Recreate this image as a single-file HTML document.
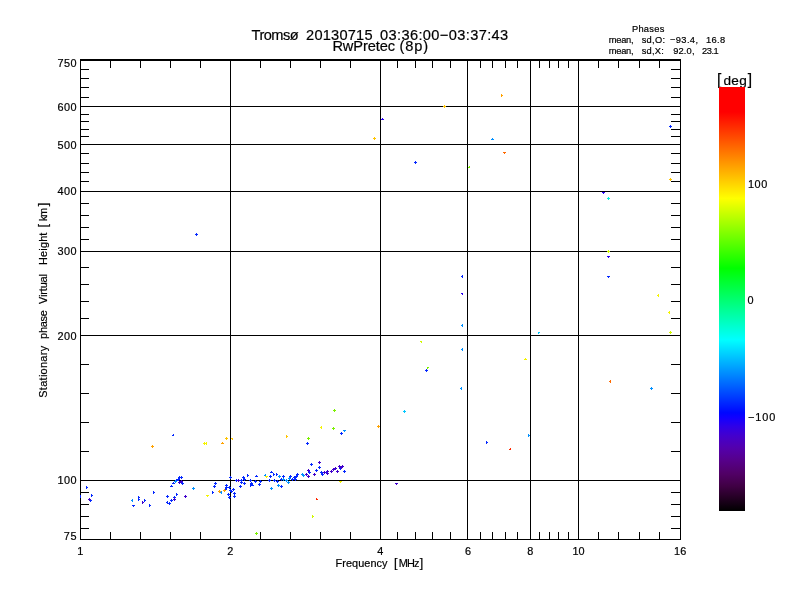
<!DOCTYPE html>
<html><head><meta charset="utf-8"><title>Tromsø 20130715 RwPretec</title>
<style>html,body{margin:0;padding:0;background:#fff}svg{display:block;will-change:transform}g.tx{filter:grayscale(1)}text{font-family:"Liberation Sans",sans-serif;fill:#000;stroke:#000;stroke-width:.2px}.t{font-size:11px}.s{font-size:9.6px}.b{font-size:13.4px}</style></head><body>
<svg width="800" height="600" viewBox="0 0 800 600">
<rect width="800" height="600" fill="#fff"/>
<defs><linearGradient id="cb" x1="0" y1="1" x2="0" y2="0">
<stop offset="0.0000" stop-color="rgb(0,0,0)"/>
<stop offset="0.0314" stop-color="rgb(36,0,36)"/>
<stop offset="0.0588" stop-color="rgb(64,0,68)"/>
<stop offset="0.0863" stop-color="rgb(80,0,100)"/>
<stop offset="0.1176" stop-color="rgb(86,0,136)"/>
<stop offset="0.1490" stop-color="rgb(83,0,173)"/>
<stop offset="0.1765" stop-color="rgb(68,0,204)"/>
<stop offset="0.2000" stop-color="rgb(46,0,232)"/>
<stop offset="0.2196" stop-color="rgb(18,0,255)"/>
<stop offset="0.2314" stop-color="rgb(0,6,255)"/>
<stop offset="0.4039" stop-color="rgb(0,255,255)"/>
<stop offset="0.5725" stop-color="rgb(0,255,0)"/>
<stop offset="0.7373" stop-color="rgb(255,255,0)"/>
<stop offset="0.9412" stop-color="rgb(255,0,0)"/>
<stop offset="1.0000" stop-color="rgb(255,0,0)"/>
</linearGradient></defs>
<g fill="#000" shape-rendering="crispEdges"><rect x="80" y="59" width="1" height="481"/><rect x="680" y="59" width="1" height="481"/><rect x="80" y="59" width="601" height="2"/><rect x="80" y="539" width="601" height="1"/><rect x="80" y="480" width="601" height="1"/><rect x="80" y="335" width="601" height="1"/><rect x="80" y="251" width="601" height="1"/><rect x="80" y="191" width="601" height="1"/><rect x="80" y="144" width="601" height="1"/><rect x="80" y="106" width="601" height="1"/><rect x="230" y="59" width="1" height="481"/><rect x="380" y="59" width="1" height="481"/><rect x="467" y="59" width="1" height="481"/><rect x="530" y="59" width="1" height="481"/><rect x="578" y="59" width="1" height="481"/><rect x="81" y="528" width="8" height="1"/><rect x="671" y="528" width="9" height="1"/><rect x="81" y="516" width="8" height="1"/><rect x="671" y="516" width="9" height="1"/><rect x="81" y="504" width="8" height="1"/><rect x="671" y="504" width="9" height="1"/><rect x="81" y="492" width="8" height="1"/><rect x="671" y="492" width="9" height="1"/><rect x="81" y="451" width="8" height="1"/><rect x="671" y="451" width="9" height="1"/><rect x="81" y="422" width="8" height="1"/><rect x="671" y="422" width="9" height="1"/><rect x="81" y="393" width="8" height="1"/><rect x="671" y="393" width="9" height="1"/><rect x="81" y="364" width="8" height="1"/><rect x="671" y="364" width="9" height="1"/><rect x="81" y="318" width="8" height="1"/><rect x="671" y="318" width="9" height="1"/><rect x="81" y="301" width="8" height="1"/><rect x="671" y="301" width="9" height="1"/><rect x="81" y="284" width="8" height="1"/><rect x="671" y="284" width="9" height="1"/><rect x="81" y="267" width="8" height="1"/><rect x="671" y="267" width="9" height="1"/><rect x="81" y="239" width="8" height="1"/><rect x="671" y="239" width="9" height="1"/><rect x="81" y="227" width="8" height="1"/><rect x="671" y="227" width="9" height="1"/><rect x="81" y="215" width="8" height="1"/><rect x="671" y="215" width="9" height="1"/><rect x="81" y="203" width="8" height="1"/><rect x="671" y="203" width="9" height="1"/><rect x="81" y="181" width="8" height="1"/><rect x="671" y="181" width="9" height="1"/><rect x="81" y="172" width="8" height="1"/><rect x="671" y="172" width="9" height="1"/><rect x="81" y="163" width="8" height="1"/><rect x="671" y="163" width="9" height="1"/><rect x="81" y="153" width="8" height="1"/><rect x="671" y="153" width="9" height="1"/><rect x="81" y="136" width="8" height="1"/><rect x="671" y="136" width="9" height="1"/><rect x="81" y="129" width="8" height="1"/><rect x="671" y="129" width="9" height="1"/><rect x="81" y="121" width="8" height="1"/><rect x="671" y="121" width="9" height="1"/><rect x="81" y="114" width="8" height="1"/><rect x="671" y="114" width="9" height="1"/><rect x="81" y="97" width="8" height="1"/><rect x="671" y="97" width="9" height="1"/><rect x="81" y="87" width="8" height="1"/><rect x="671" y="87" width="9" height="1"/><rect x="81" y="78" width="8" height="1"/><rect x="671" y="78" width="9" height="1"/><rect x="81" y="69" width="8" height="1"/><rect x="671" y="69" width="9" height="1"/><rect x="110" y="61" width="1" height="7"/><rect x="110" y="532" width="1" height="7"/><rect x="140" y="61" width="1" height="7"/><rect x="140" y="532" width="1" height="7"/><rect x="170" y="61" width="1" height="7"/><rect x="170" y="532" width="1" height="7"/><rect x="200" y="61" width="1" height="7"/><rect x="200" y="532" width="1" height="7"/><rect x="260" y="61" width="1" height="7"/><rect x="260" y="532" width="1" height="7"/><rect x="290" y="61" width="1" height="7"/><rect x="290" y="532" width="1" height="7"/><rect x="320" y="61" width="1" height="7"/><rect x="320" y="532" width="1" height="7"/><rect x="350" y="61" width="1" height="7"/><rect x="350" y="532" width="1" height="7"/><rect x="397" y="61" width="1" height="7"/><rect x="397" y="532" width="1" height="7"/><rect x="415" y="61" width="1" height="7"/><rect x="415" y="532" width="1" height="7"/><rect x="432" y="61" width="1" height="7"/><rect x="432" y="532" width="1" height="7"/><rect x="450" y="61" width="1" height="7"/><rect x="450" y="532" width="1" height="7"/><rect x="480" y="61" width="1" height="7"/><rect x="480" y="532" width="1" height="7"/><rect x="492" y="61" width="1" height="7"/><rect x="492" y="532" width="1" height="7"/><rect x="505" y="61" width="1" height="7"/><rect x="505" y="532" width="1" height="7"/><rect x="517" y="61" width="1" height="7"/><rect x="517" y="532" width="1" height="7"/><rect x="539" y="61" width="1" height="7"/><rect x="539" y="532" width="1" height="7"/><rect x="549" y="61" width="1" height="7"/><rect x="549" y="532" width="1" height="7"/><rect x="558" y="61" width="1" height="7"/><rect x="558" y="532" width="1" height="7"/><rect x="568" y="61" width="1" height="7"/><rect x="568" y="532" width="1" height="7"/><rect x="598" y="61" width="1" height="7"/><rect x="598" y="532" width="1" height="7"/><rect x="618" y="61" width="1" height="7"/><rect x="618" y="532" width="1" height="7"/><rect x="639" y="61" width="1" height="7"/><rect x="639" y="532" width="1" height="7"/><rect x="659" y="61" width="1" height="7"/><rect x="659" y="532" width="1" height="7"/></g>
<path d="M86.5 486v3M87 487.5h1M91.5 494v3M92 495.5h1M80.5 495v3M90.5 499v3M91 500.5h1M132 505.5h3M133.5 506v1M138.5 496v3M139 497.5h1M138.5 498v3M139 499.5h1M144.5 499v3M145 500.5h1M149.5 504v3M150 505.5h1M153.5 491v3M154 492.5h1M166 496.5h3M167.5 495v3M167.5 501v3M166 502.5h1M168 503.5h3M169.5 502v3M170 500.5h3M171.5 499v3M173 497.5h3M174.5 496v3M176.5 493v3M177 494.5h1M170 486.5h3M171.5 485v1M172 483.5h3M173.5 482v1M175 480.5h3M176.5 479v3M177 479.5h3M178.5 478v3M178 477.5h3M179.5 476v3M180 477.5h3M181.5 476v3M181 483.5h3M182.5 482v3M214 483.5h3M215.5 482v3M213 486.5h3M214.5 485v3M212.5 491v3M213 492.5h1M225 485.5h3M226.5 484v3M225 487.5h3M226.5 486v3M224 489.5h3M225.5 488v3M228 487.5h3M229.5 486v3M229 477.5h3M230.5 476v3M229 490.5h3M230.5 489v3M230 491.5h3M231.5 490v3M232 489.5h3M233.5 488v3M233 493.5h3M234.5 492v3M233 496.5h3M234.5 495v3M227 494.5h3M228.5 493v3M228 497.5h3M229.5 496v3M235 480.5h3M236.5 479v3M240 480.5h3M241.5 479v3M242 477.5h3M243.5 476v3M243 479.5h3M244.5 478v3M240 482.5h3M241.5 481v3M243 483.5h3M244.5 482v3M239 486.5h3M240.5 485v3M247.5 474v3M248 475.5h1M249 480.5h3M250.5 479v3M250 483.5h3M251.5 482v3M250.5 484v3M251 485.5h1M251 485.5h3M252.5 484v1M254 481.5h3M255.5 480v3M255 476.5h3M256.5 475v1M259 481.5h3M260.5 480v3M258 484.5h3M259.5 483v3M270 472.5h3M271.5 471v1M269 476.5h3M270.5 475v3M273.5 473v3M274 474.5h1M276.5 473v3M277 474.5h1M268 480.5h3M269.5 479v3M273 480.5h3M274.5 479v3M276 481.5h3M277.5 480v3M280 486.5h3M281.5 485v3M280 479.5h3M281.5 478v3M282 476.5h3M283.5 475v3M289 476.5h3M290.5 475v3M291 479.5h3M292.5 478v3M293 477.5h3M294.5 476v3M294 479.5h3M295.5 478v3M296 474.5h3M297.5 473v3M295 476.5h3M296.5 475v3M308 472.5h3M309.5 471v3M310 464.5h3M311.5 463v3M315 470.5h3M316.5 469v3M318 467.5h3M319.5 466v3M320 472.5h3M321.5 471v3M321 474.5h3M322.5 473v3M325 472.5h3M326.5 471v3M339 468.5h3M340.5 467v3M343 471.5h3M344.5 470v3M173 434.5h1M173 435.5h1M172 435.5h1M306 443.5h3M307.5 442v3M340 433.5h3M341.5 432v3M195 234.5h3M196.5 233v3M414 162.5h3M415.5 161v3M669 126.5h3M670.5 125v3M462.5 275v3M461 276.5h1M607 276.5h3M608.5 277v1M425 370.5h3M426.5 369v3M486.5 441v3M487 442.5h1" stroke="#0428ff" stroke-width="1" fill="none" shape-rendering="crispEdges"/>
<path d="M88 499.5h3M89.5 498v3M142.5 501v3M143 502.5h1M173 499.5h3M174.5 498v3M178 482.5h3M179.5 481v3M180 481.5h3M181.5 480v3M184 496.5h3M185.5 495v3M237 480.5h3M238.5 479v3M305 474.5h3M306.5 473v3M307 476.5h3M308.5 475v3M307 470.5h3M308.5 469v3M313 474.5h3M314.5 473v3M318 462.5h3M319.5 461v3M323 472.5h3M324.5 471v3M326 473.5h3M327.5 472v3M326 471.5h3M327.5 470v3M330 471.5h3M331.5 470v3M332 469.5h3M333.5 468v3M334 468.5h3M335.5 467v3M336 471.5h3M337.5 470v3M338 466.5h3M339.5 465v3M340 467.5h3M341.5 466v3M341 466.5h3M342.5 465v3M395 483.5h3M396.5 484v1" stroke="#4000cc" stroke-width="1" fill="none" shape-rendering="crispEdges"/>
<path d="M132.5 499v3M131 500.5h1M174 481.5h3M175.5 480v3M192 488.5h3M193.5 487v3M221.5 491v3M220 492.5h1M265.5 474v3M264 475.5h1M278 476.5h3M279.5 475v3M270 488.5h3M271.5 487v3M277 485.5h3M278.5 484v3M282 479.5h3M283.5 478v3M285 480.5h3M286.5 479v3M287 482.5h3M288.5 481v3M288 478.5h3M289.5 477v3M301 474.5h3M302.5 473v3M302 475.5h3M303.5 474v3M343 430.5h3M344.5 431v1M461.5 387v3M460 388.5h1M491 139.5h3M492.5 138v1M462.5 324v3M461 325.5h1M462.5 348v3M461 349.5h1M528.5 434v3M529 435.5h1M650 388.5h3M651.5 387v3" stroke="#0090ff" stroke-width="1" fill="none" shape-rendering="crispEdges"/>
<path d="M206 495.5h3M207.5 496v1M265 476.5h3M266.5 477v1M339 481.5h3M340.5 482v1M203 443.5h3M204.5 442v3M206.5 442v3M205 443.5h1M321.5 426v3M320 427.5h1M524 359.5h3M525.5 358v1M658.5 294v3M657 295.5h1M669.5 311v3M668 312.5h1" stroke="#f4f400" stroke-width="1" fill="none" shape-rendering="crispEdges"/>
<path d="M218 491.5h3M219.5 490v3M223 490.5h3M224.5 489v3M151 446.5h3M152.5 445v3M221 443.5h3M222.5 442v1M377 426.5h3M378.5 425v3M501.5 94v3M502 95.5h1" stroke="#ffa200" stroke-width="1" fill="none" shape-rendering="crispEdges"/>
<path d="M316 498.5h1M316 499.5h1M317 499.5h1M510 448.5h1M510 449.5h1M509 449.5h1" stroke="#ff2800" stroke-width="1" fill="none" shape-rendering="crispEdges"/>
<path d="M312.5 515v3M313 516.5h1M421 341.5h1M420 341.5h1M421 342.5h1M607 251.5h3M608.5 250v3M669 332.5h3M670.5 331v3" stroke="#d0f800" stroke-width="1" fill="none" shape-rendering="crispEdges"/>
<path d="M225 438.5h3M226.5 437v3M232 438.5h1M231 438.5h1M232 439.5h1M286.5 435v3M287 436.5h1M373 138.5h3M374.5 137v3M443 106.5h3M444.5 105v3M669 179.5h3M670.5 178v3" stroke="#ffc400" stroke-width="1" fill="none" shape-rendering="crispEdges"/>
<path d="M307 438.5h3M308.5 437v3M332 428.5h3M333.5 427v3M333 410.5h3M334.5 409v3M469 166.5h1M469 167.5h1M468 167.5h1M427 367.5h1M428 367.5h1M427 368.5h1M255 533.5h3M256.5 532v3" stroke="#7cf000" stroke-width="1" fill="none" shape-rendering="crispEdges"/>
<path d="M403 411.5h3M404.5 410v3M538 332.5h1M539 332.5h1M538 333.5h1" stroke="#00c8ff" stroke-width="1" fill="none" shape-rendering="crispEdges"/>
<path d="M381 119.5h3M382.5 118v1M602 192.5h3M603.5 193v1M462 293.5h1M461 293.5h1M462 294.5h1M607 256.5h3M608.5 257v1" stroke="#2800f0" stroke-width="1" fill="none" shape-rendering="crispEdges"/>
<path d="M503 152.5h3M504.5 153v1M610.5 380v3M609 381.5h1" stroke="#ff6a00" stroke-width="1" fill="none" shape-rendering="crispEdges"/>
<path d="M607 198.5h3M608.5 197v3" stroke="#00f0e0" stroke-width="1" fill="none" shape-rendering="crispEdges"/>
<g class="tx">
<text x="251.60" y="40.00" font-size="14.6" textLength="47.00" lengthAdjust="spacing">Tromsø</text>
<text x="306.10" y="40.00" font-size="14.6" textLength="66.40" lengthAdjust="spacing">20130715</text>
<text x="380.00" y="40.00" font-size="14.6" textLength="128.20" lengthAdjust="spacing">03:36:00−03:37:43</text>
<text x="332.40" y="51.40" font-size="14.6" textLength="62.60" lengthAdjust="spacing">RwPretec</text>
<text x="399.50" y="51.40" font-size="14.6" textLength="28.50" lengthAdjust="spacing">(8p)</text>
<text x="631.90" y="31.70" font-size="9.3" textLength="32.50" lengthAdjust="spacing">Phases</text>
<text x="608.75" y="42.50" font-size="9.3" textLength="24.85" lengthAdjust="spacing">mean,</text>
<text x="641.65" y="42.50" font-size="9.3" textLength="23.45" lengthAdjust="spacing">sd,O:</text>
<text x="670.00" y="42.50" font-size="9.3" textLength="28.00" lengthAdjust="spacing">−93.4,</text>
<text x="705.90" y="42.50" font-size="9.3" textLength="19.20" lengthAdjust="spacing">16.8</text>
<text x="608.75" y="53.50" font-size="9.3" textLength="24.85" lengthAdjust="spacing">mean,</text>
<text x="641.65" y="53.50" font-size="9.3" textLength="22.25" lengthAdjust="spacing">sd,X:</text>
<text x="673.15" y="53.50" font-size="9.3" textLength="21.35" lengthAdjust="spacing">92.0,</text>
<text x="702.00" y="53.50" font-size="9.3" textLength="16.75" lengthAdjust="spacing">23.1</text>
<text x="717.00" y="85.10" font-size="15.6" text-anchor="start">[</text>
<text x="723.50" y="84.50" font-size="13.6" textLength="23.30" lengthAdjust="spacing">deg</text>
<text x="752.00" y="85.10" font-size="15.6" text-anchor="end">]</text>
<text x="747.90" y="188.00" font-size="10.9" textLength="19.40" lengthAdjust="spacing">100</text>
<text x="747.40" y="304.00" font-size="10.9" text-anchor="start">0</text>
<text x="748.00" y="421.20" font-size="10.9" textLength="27.40" lengthAdjust="spacing">−100</text>
<text x="63.70" y="540.20" font-size="10.9" textLength="12.90" lengthAdjust="spacing">75</text>
<text x="57.40" y="484.23" font-size="10.9" textLength="19.20" lengthAdjust="spacing">100</text>
<text x="57.40" y="339.74" font-size="10.9" textLength="19.20" lengthAdjust="spacing">200</text>
<text x="57.40" y="255.21" font-size="10.9" textLength="19.20" lengthAdjust="spacing">300</text>
<text x="57.40" y="195.24" font-size="10.9" textLength="19.20" lengthAdjust="spacing">400</text>
<text x="57.40" y="148.72" font-size="10.9" textLength="19.20" lengthAdjust="spacing">500</text>
<text x="57.40" y="110.72" font-size="10.9" textLength="19.20" lengthAdjust="spacing">600</text>
<text x="57.40" y="67.20" font-size="10.9" textLength="19.20" lengthAdjust="spacing">750</text>
<text x="80.30" y="555.20" font-size="10.9" text-anchor="middle">1</text>
<text x="230.30" y="555.20" font-size="10.9" text-anchor="middle">2</text>
<text x="380.30" y="555.20" font-size="10.9" text-anchor="middle">4</text>
<text x="468.04" y="555.20" font-size="10.9" text-anchor="middle">6</text>
<text x="530.30" y="555.20" font-size="10.9" text-anchor="middle">8</text>
<text x="572.39" y="555.20" font-size="10.9" textLength="12.10" lengthAdjust="spacing">10</text>
<text x="674.10" y="555.20" font-size="10.9" textLength="12.10" lengthAdjust="spacing">16</text>
<text x="335.50" y="567.00" font-size="10.9" textLength="52.00" lengthAdjust="spacing">Frequency</text>
<text x="394.00" y="566.70" font-size="12.5" text-anchor="start">[</text>
<text x="398.75" y="567.00" font-size="10.9" textLength="20.65" lengthAdjust="spacing">MHz</text>
<text x="423.20" y="566.70" font-size="12.5" text-anchor="end">]</text>
<text x="-397.70" y="47.10" font-size="10.9" textLength="51.80" lengthAdjust="spacing" transform="rotate(-90)">Stationary</text>
<text x="-338.90" y="47.10" font-size="10.9" textLength="28.70" lengthAdjust="spacing" transform="rotate(-90)">phase</text>
<text x="-303.90" y="47.10" font-size="10.9" textLength="29.80" lengthAdjust="spacing" transform="rotate(-90)">Virtual</text>
<text x="-265.00" y="47.10" font-size="10.9" textLength="32.40" lengthAdjust="spacing" transform="rotate(-90)">Height</text>
<text x="-221.30" y="47.10" font-size="10.9" textLength="13.30" lengthAdjust="spacing" transform="rotate(-90)">km</text>
<text x="-227.6" y="47.3" font-size="13" text-anchor="start" transform="rotate(-90)">[</text>
<text x="-202.7" y="47.3" font-size="13" text-anchor="end" transform="rotate(-90)">]</text>
</g>
<rect x="719" y="87" width="26" height="424" fill="url(#cb)" shape-rendering="crispEdges"/>
</svg></body></html>
